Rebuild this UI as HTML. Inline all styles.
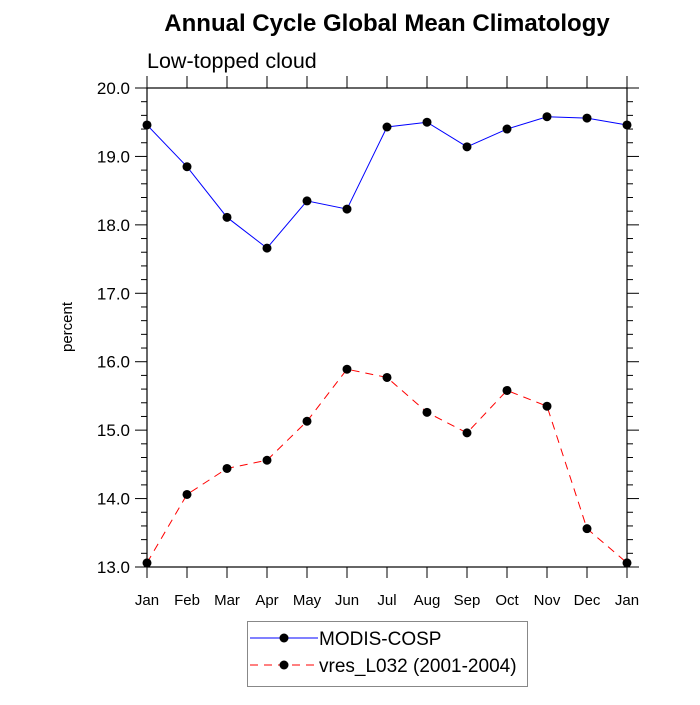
<!DOCTYPE html>
<html><head><meta charset="utf-8"><style>
body{margin:0;background:#fff;}
svg text{font-family:"Liberation Sans",Helvetica,Arial,sans-serif;}
</style></head><body>
<svg id="chart" width="700" height="700" viewBox="0 0 700 700" xmlns="http://www.w3.org/2000/svg">
<text x="387" y="31" text-anchor="middle" font-size="24" font-weight="bold">Annual Cycle Global Mean Climatology</text>
<text x="147" y="68" font-size="21.5">Low-topped cloud</text>
<text transform="translate(72,327) rotate(-90)" text-anchor="middle" font-size="15">percent</text>
<g id="axes"></g>
<g id="series"></g>
<g>
<rect x="247.5" y="621.5" width="280" height="65" fill="#fff" stroke="#888" stroke-width="1"/>
<g>
<line x1="250" y1="638" x2="318" y2="638" stroke="#0000ff" stroke-width="1"/>
<circle cx="284" cy="638" r="4.5" fill="#000"/>
<text x="319" y="645" font-size="19">MODIS-COSP</text></g>
<g>
<line x1="250" y1="665" x2="318" y2="665" stroke="#ff0000" stroke-width="1" stroke-dasharray="8,6"/>
<circle cx="284" cy="665" r="4.5" fill="#000"/>
<text x="319" y="672" font-size="19">vres_L032 (2001-2004)</text></g>
</g>
</svg>
<script>
const months = ["Jan","Feb","Mar","Apr","May","Jun","Jul","Aug","Sep","Oct","Nov","Dec","Jan"];
const modisValues = [19.46,18.85,18.11,17.66,18.35,18.23,19.43,19.50,19.14,19.40,19.58,19.56,19.46];
const modelValues = [13.06,14.06,14.44,14.56,15.13,15.89,15.77,15.26,14.96,15.58,15.35,13.56,13.06];
const yTickLabels = ["13.0","14.0","15.0","16.0","17.0","18.0","19.0","20.0"];

const X0=147, X1=627, Y0=567, Y1=88, YMIN=13, YMAX=20;
const xs = i => X0 + (X1-X0)*i/(months.length-1);
const ys = v => Y0 - (Y0-Y1)*(v-YMIN)/(YMAX-YMIN);
const NS="http://www.w3.org/2000/svg";
function mk(tag, attrs, parent){const e=document.createElementNS(NS,tag);for(const k in attrs)e.setAttribute(k,attrs[k]);parent.appendChild(e);return e;}
const axes=document.getElementById('axes');
const ser=document.getElementById('series');

const fr=mk('rect',{x:X0,y:Y1,width:X1-X0,height:Y0-Y1,fill:'none',stroke:'#000','stroke-width':1.2},axes);



for(let v=YMIN; v<=YMAX+1e-9; v+=0.2){
  const major=Math.abs(v-Math.round(v))<1e-6;
  const y=ys(v), L=major?12:6;
  mk('line',{x1:X0-L,y1:y,x2:X0,y2:y,stroke:'#000','stroke-width':1},axes);
  mk('line',{x1:X1,y1:y,x2:X1+L,y2:y,stroke:'#000','stroke-width':1},axes);
}
yTickLabels.forEach(function(lab){
  const t=mk('text',{x:X0-17,y:ys(parseFloat(lab))+6,'text-anchor':'end','font-size':17},axes);
  
  
  t.textContent=lab;
});
months.forEach(function(m,i){
  const x=xs(i);
  mk('line',{x1:x,y1:Y0,x2:x,y2:Y0+11,stroke:'#000','stroke-width':1},axes);
  mk('line',{x1:x,y1:Y1-12,x2:x,y2:Y1,stroke:'#000','stroke-width':1},axes);
  const t=mk('text',{x:x,y:Y0+38,'text-anchor':'middle','font-size':15},axes);
  
  
  t.textContent=m;
});

function drawSeries(vals,color,dash,name){
  const g=mk('g',{},ser);
  
  
  const pts=vals.map((v,i)=>xs(i)+','+ys(v)).join(' ');
  const a={points:pts,fill:'none',stroke:color,'stroke-width':1};
  if(dash)a['stroke-dasharray']=dash;
  mk('polyline',a,g);
  vals.forEach(function(v,i){
    const c=mk('circle',{cx:xs(i),cy:ys(v),r:4.5,fill:'#000'},g);
    
    
  });
}
drawSeries(modisValues,'#0000ff',null,'series-modis-cosp');
drawSeries(modelValues,'#ff0000','8,6','series-vres-l032');
</script>
</body></html>
